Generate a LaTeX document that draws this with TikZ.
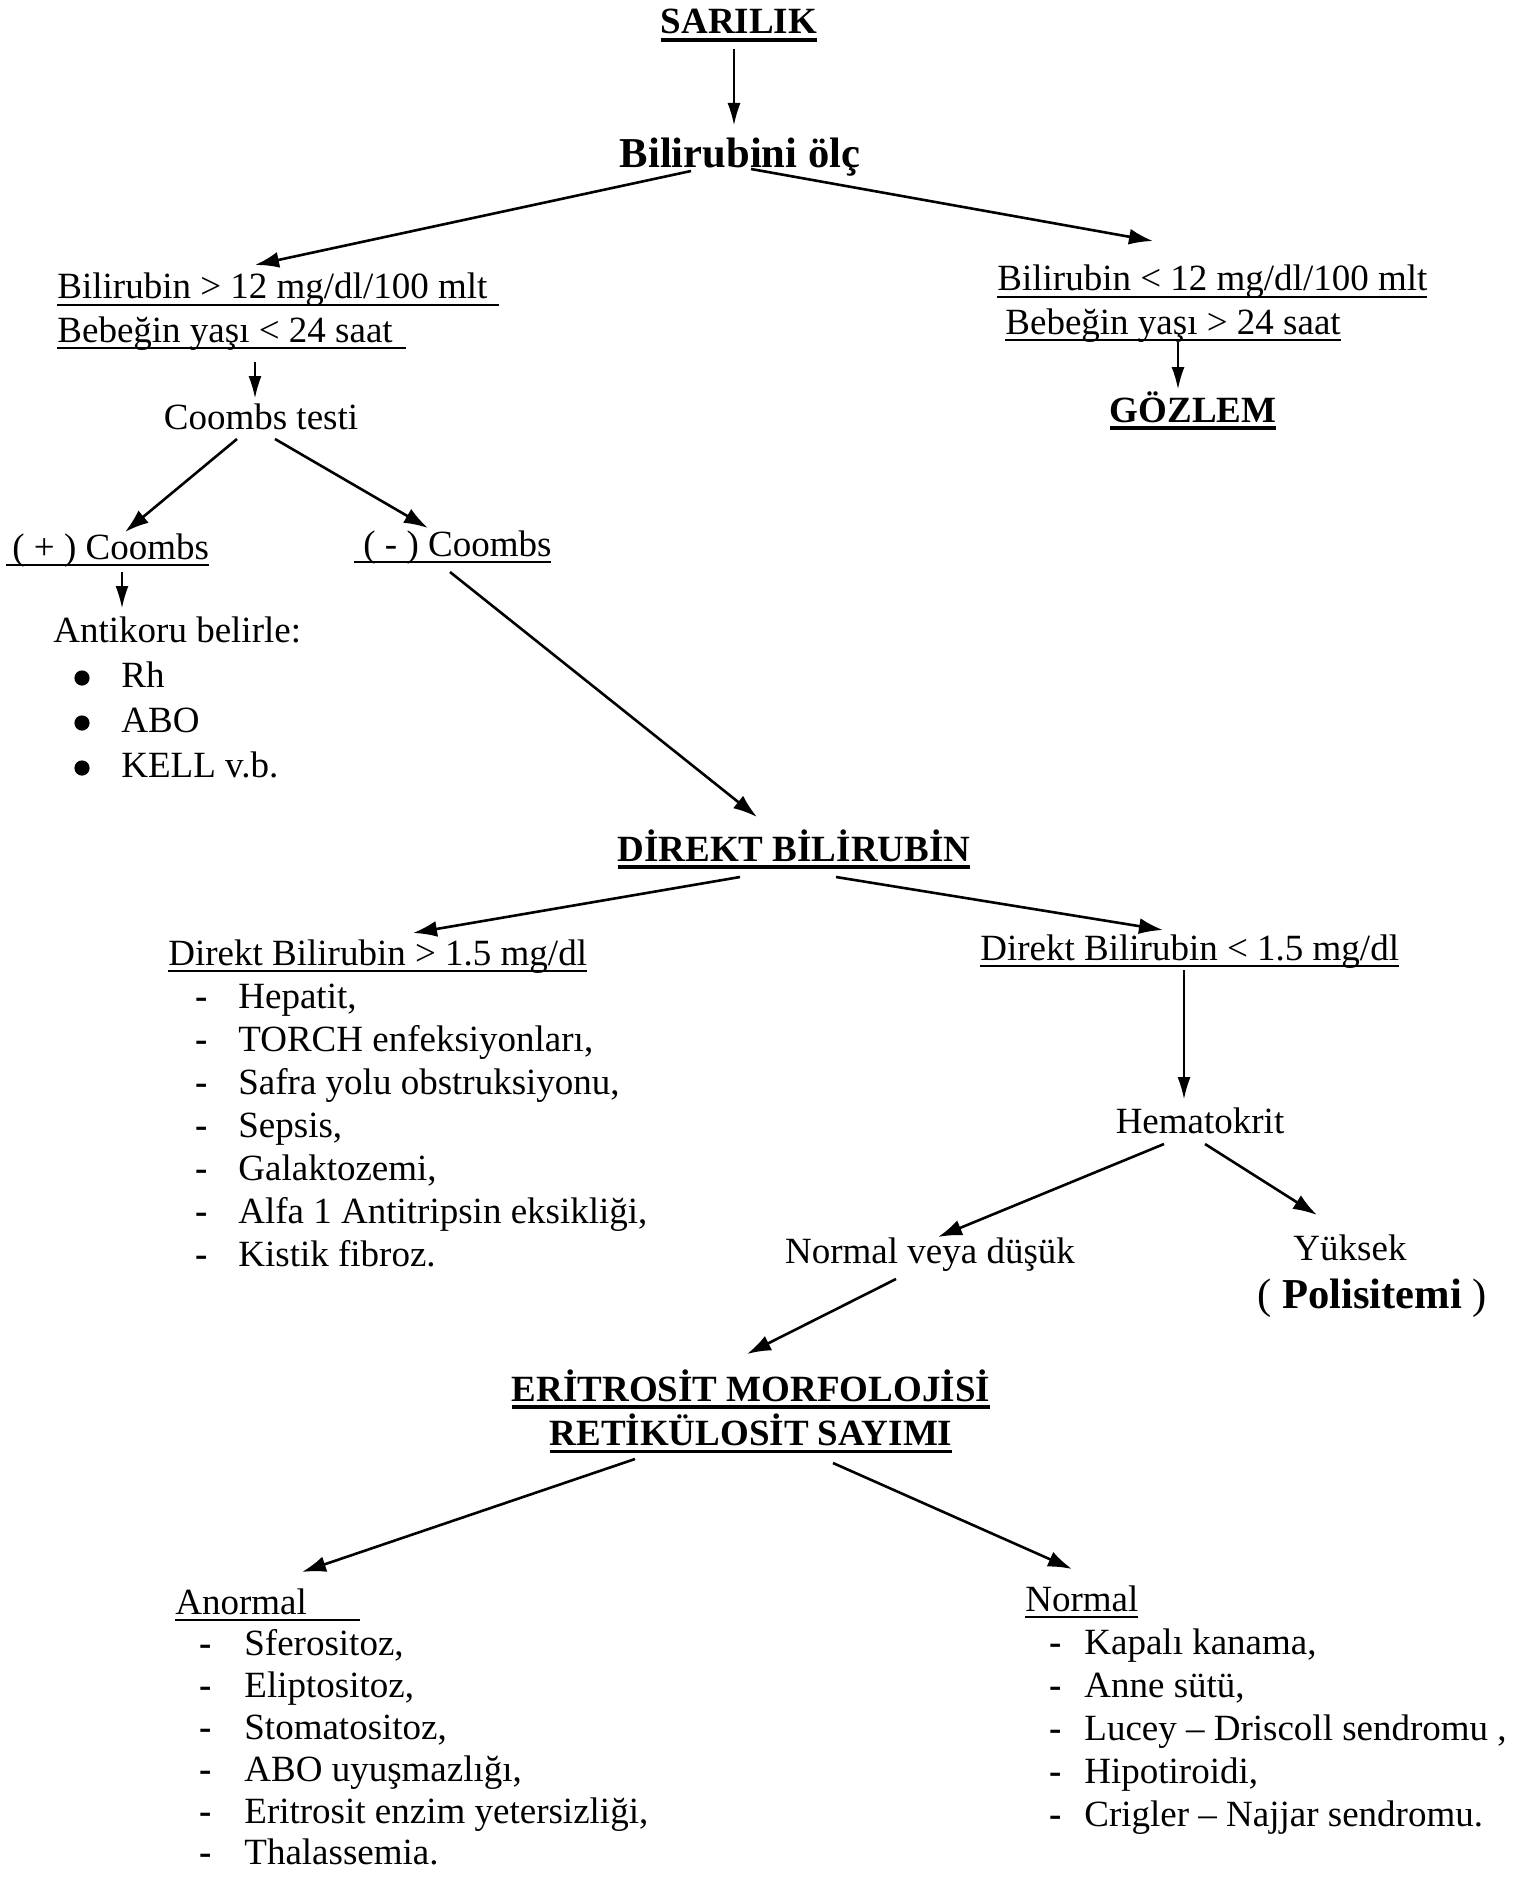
\documentclass[tikz,border=0pt]{standalone}
\usepackage{fontspec}
\setmainfont{Liberation Serif}
\usetikzlibrary{arrows.meta}

\newsavebox\ulbox
% underlined text: [extra length]{rule thickness}{text}
\newcommand{\ulx}[3][0pt]{\sbox\ulbox{#3}\rlap{\rule[\dimexpr-3pt-#2/2\relax]{\dimexpr\wd\ulbox+#1\relax}{#2}}\usebox\ulbox}
\newcommand{\ulb}[2][0pt]{\ulx[#1]{1.8pt}{\bfseries #2}}
\newcommand{\ult}[2][0pt]{\ulx[#1]{0.9pt}{#2}}

\tikzset{
  txt/.style={inner sep=0pt, anchor=base},
  lft/.style={inner sep=0pt, anchor=base west},
  bigtxt/.style={font=\fontsize{21.3pt}{24pt}\selectfont},
  arr/.style={-{Latex[length=12pt,width=8pt]}, line width=1.3pt},
  varr/.style={-{Latex[length=11pt,width=6.5pt]}, line width=0.7pt}
}

\begin{document}
\begin{tikzpicture}[x=0.5pt, y=-0.5pt, font=\fontsize{18.5pt}{21.5pt}\selectfont]
\useasboundingbox (0,0) rectangle (1522,1878);

% top
\node[txt] (sarilik) at (739,34) {\ulb{SARILIK}};
\node[txt, bigtxt] (bilolc) at (740,168) {\bfseries Bilirubini ölç};
\node[lft] (gt12) at (57,299) {\begin{tabular}[t]{@{}l@{}}
  \ult[6pt]{Bilirubin > 12 mg/dl/100 mlt}\\
  \ult[6.5pt]{Bebeğin yaşı < 24 saat}\end{tabular}};
\node[lft] (lt12) at (997,291) {\begin{tabular}[t]{@{}l@{}}
  \ult{Bilirubin < 12 mg/dl/100 mlt}\\
  \hspace*{4pt}\ult{Bebeğin yaşı > 24 saat}\end{tabular}};
\node[txt] (gozlem) at (1193,422) {\ulb{GÖZLEM}};

% coombs
\node[txt] (coombs) at (261,429) {Coombs testi};
\node[lft] (pos) at (6,559) {\ult{\kern3pt( + ) Coombs}};
\node[lft] (neg) at (354,556) {\ult{\kern4.5pt( - ) Coombs}};
\node[lft] (anti) at (53,642) {\begin{tabular}[t]{@{\hspace{34pt}}l@{}}
  \multicolumn{1}{@{}l@{}}{Antikoru belirle:}\\[1pt]
  Rh\\[1pt]
  ABO\\[1pt]
  KELL v.b.\end{tabular}};
\foreach \i in {1,2,3}
  \fill ([shift={(29,45*\i-9)}]anti.base west) circle[radius=3.8pt];

% direkt bilirubin
\node[txt] (direkt) at (794,861) {\ulb{DİREKT BİLİRUBİN}};
\node[lft] (dgt) at (168,965) {\begin{tabular}[t]{@{\hspace{13.5pt}}p{21.5pt}@{}l@{}}
  \multicolumn{2}{@{}l@{}}{\ult{Direkt Bilirubin > 1.5 mg/dl}}\\
  \textbf{-} & Hepatit,\\
  \textbf{-} & TORCH enfeksiyonları,\\
  \textbf{-} & Safra yolu obstruksiyonu,\\
  \textbf{-} & Sepsis,\\
  \textbf{-} & Galaktozemi,\\
  \textbf{-} & Alfa 1 Antitripsin eksikliği,\\
  \textbf{-} & Kistik fibroz.\end{tabular}};
\node[lft] (dlt) at (980,960) {\ult{Direkt Bilirubin < 1.5 mg/dl}};
\node[txt] (hemat) at (1200,1133) {Hematokrit};
\node[txt] (normdus) at (930,1263) {Normal veya düşük};
\node[txt] (yuksek) at (1350,1260) {Yüksek};
\node[txt, bigtxt] (polis) at (1372,1308) {( \textbf{Polisitemi} )};

% eritrosit
\node[txt] (eritro) at (751,1401) {\begin{tabular}[t]{@{}c@{}}
  \ulb{ERİTROSİT MORFOLOJİSİ}\\
  \ulb{RETİKÜLOSİT SAYIMI}\end{tabular}};
\node[lft] (anormal) at (175,1614) {\begin{tabular}[t]{@{\hspace{12pt}}p{22.5pt}@{}l@{}}
  \multicolumn{2}{@{}l@{}}{\ult[26.5pt]{Anormal}}\\[-0.6pt]
  \textbf{-} & Sferositoz,\\[-0.6pt]
  \textbf{-} & Eliptositoz,\\[-0.6pt]
  \textbf{-} & Stomatositoz,\\[-0.6pt]
  \textbf{-} & ABO uyuşmazlığı,\\[-0.6pt]
  \textbf{-} & Eritrosit enzim yetersizliği,\\[-0.6pt]
  \textbf{-} & Thalassemia.\end{tabular}};
\node[lft] (normal) at (1025,1611) {\begin{tabular}[t]{@{\hspace{12pt}}p{17.5pt}@{}l@{}}
  \multicolumn{2}{@{}l@{}}{\ult{Normal}}\\
  \textbf{-} & Kapalı kanama,\\
  \textbf{-} & Anne sütü,\\
  \textbf{-} & Lucey -- Driscoll sendromu ,\\
  \textbf{-} & Hipotiroidi,\\
  \textbf{-} & Crigler -- Najjar sendromu.\end{tabular}};

% arrows
\draw[varr] ([shift={(-5,15)}]sarilik.base) -- ([shift={(-6,-43)}]bilolc.base);
\draw[arr] ([shift={(-49,3)}]bilolc.base) -- ([shift={(198,-34)}]gt12.base west);
\draw[arr] ([shift={(11,1)}]bilolc.base) -- ([shift={(156,-50)}]lt12.base west);
\draw[varr] ([shift={(198,63)}]gt12.base west) -- ([shift={(-6,-31)}]coombs.base);
\draw[varr] ([shift={(181,51)}]lt12.base west) -- ([shift={(-15,-33)}]gozlem.base);
\draw[arr] ([shift={(-24,10)}]coombs.base) -- ([shift={(119,-27)}]pos.base west);
\draw[arr] ([shift={(14,10)}]coombs.base) -- ([shift={(74,-28)}]neg.base west);
\draw[varr] ([shift={(116,13)}]pos.base west) -- ([shift={(69,-34)}]anti.base west);
\draw[arr] ([shift={(96,16)}]neg.base west) -- ([shift={(-37,-44)}]direkt.base);
\draw[arr] ([shift={(-54,16)}]direkt.base) -- ([shift={(245,-32)}]dgt.base west);
\draw[arr] ([shift={(42,16)}]direkt.base) -- ([shift={(183,-30)}]dlt.base west);
\draw[varr] ([shift={(204,10)}]dlt.base west) -- ([shift={(-16,-34)}]hemat.base);
\draw[arr] ([shift={(-36,11)}]hemat.base) -- ([shift={(8,-26)}]normdus.base);
\draw[arr] ([shift={(5,11)}]hemat.base) -- ([shift={(-33,-45)}]yuksek.base);
\draw[arr] ([shift={(-34,16)}]normdus.base) -- ([shift={(-4,-47)}]eritro.base);
\draw[arr] ([shift={(-116,58)}]eritro.base) -- ([shift={(127,-42)}]anormal.base west);
\draw[arr] ([shift={(82,62)}]eritro.base) -- ([shift={(47,-42)}]normal.base west);
\end{tikzpicture}
\end{document}
